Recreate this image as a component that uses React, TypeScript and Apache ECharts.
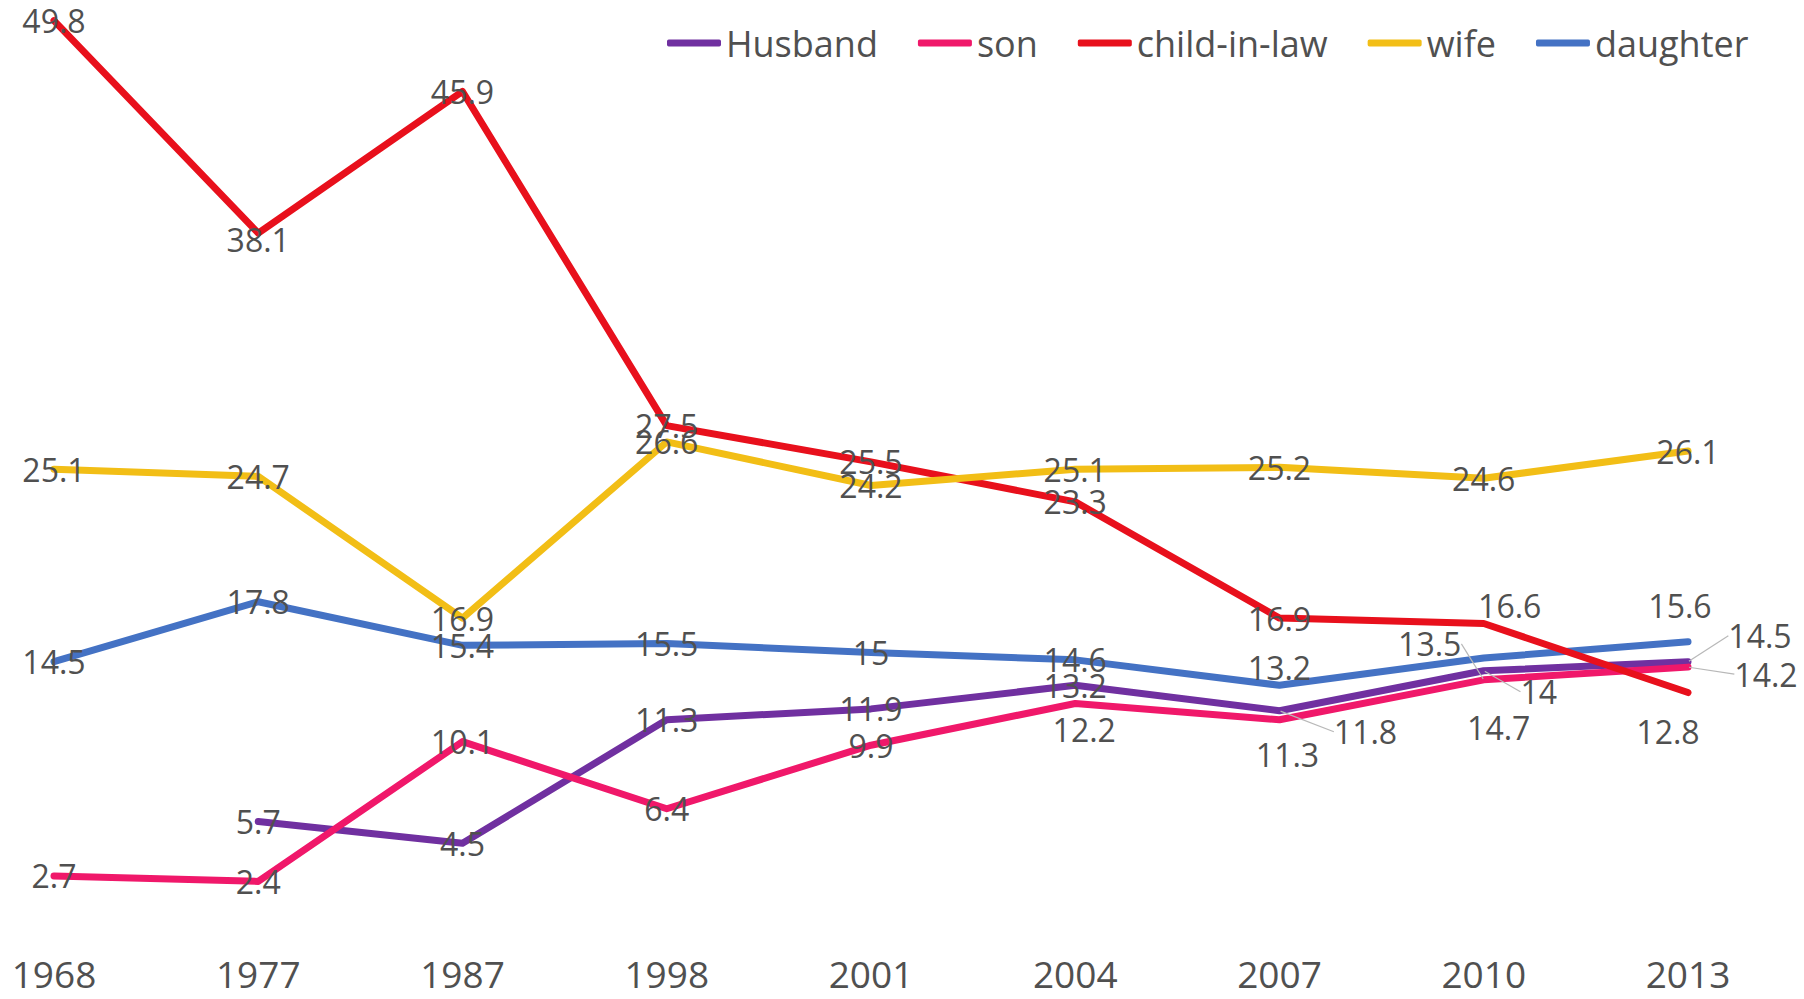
import React, { useEffect, useRef } from 'react';
import * as echarts from 'echarts';

const years = ['1968', '1977', '1987', '1998', '2001', '2004', '2007', '2010', '2013'];
const husband = [null, 5.7, 4.5, 11.3, 11.9, 13.2, 11.8, 14, 14.5];
const son = [2.7, 2.4, 10.1, 6.4, 9.9, 12.2, 11.3, 13.5, 14.2];
const childInLaw = [49.8, 38.1, 45.9, 27.5, 25.5, 23.3, 16.9, 16.6, 12.8];
const wife = [25.1, 24.7, 16.9, 26.6, 24.2, 25.1, 25.2, 24.6, 26.1];
const daughter = [14.5, 17.8, 15.4, 15.5, 15, 14.6, 13.2, 14.7, 15.6];
const legendOrder = ['Husband', 'son', 'child-in-law', 'wife', 'daughter'];

const FONT = '"Open Sans", "Noto Sans", sans-serif';
const TEXT = '#505050';

// label displacement (px) per series / point, and which have leader lines
const labelShift: Record<string, ([number, number] | null)[]> = {
  Husband: [null, null, null, null, null, null, [86, 21], [55, 21], [72, -26]],
  son: [null, null, null, null, null, [9, 26], [8, 35], [-54, -36], [78, 7]],
  'child-in-law': [null, [0, 6], null, null, null, null, null, [26, -18], [-20, 39]],
  wife: [null, null, null, null, null, null, null, null, null],
  daughter: [null, null, null, null, null, null, [0, -18], [15, 69], [-8, -36]],
};
const leaders: Record<string, number[]> = {
  Husband: [6, 7, 8],
  son: [7, 8],
  'child-in-law': [],
  wife: [],
  daughter: [],
};

export default function App() {
  const ref = useRef<HTMLDivElement>(null);
  useEffect(() => {
    document.body.style.margin = '0';
    const chart = echarts.init(ref.current!, null, { renderer: 'svg' });
    const mk = (name: string, values: (number | null)[], color: string) => ({
      name,
      type: 'line',
      data: values.map((v, i) =>
        v == null
          ? '-'
          : leaders[name].includes(i)
          ? { value: v, labelLine: { show: true } }
          : v
      ),
      symbol: 'circle',
      symbolSize: 2,
      showSymbol: true,
      lineStyle: { width: 7, color, cap: 'round', join: 'round' },
      itemStyle: { color },
      label: {
        show: true,
        position: 'inside',
        fontSize: 32,
        fontFamily: FONT,
        color: TEXT,
      },
      labelLine: { show: false, lineStyle: { color: '#b8b8b8', width: 1.2 } },
      labelLayout: (p: any) => {
        const s = labelShift[name][p.dataIndex];
        return s ? { dx: s[0], dy: s[1] } : {};
      },
      emphasis: { disabled: true },
      z: 2,
    });
    chart.setOption({
      animation: false,
      backgroundColor: '#ffffff',
      grid: { left: 54, right: 116, top: 17, bottom: 74, containLabel: false, outerBoundsMode: 'none' },
      legend: {
        data: legendOrder,
        left: 662,
        top: 20,
        icon: 'roundRect',
        itemWidth: 54,
        itemHeight: 7,
        itemGap: 40,
        textStyle: { fontSize: 36, fontFamily: FONT, color: TEXT },
      },
      xAxis: {
        type: 'category',
        data: years,
        boundaryGap: false,
        axisLine: { show: false },
        axisTick: { show: false },
        axisLabel: { fontSize: 37, fontFamily: FONT, color: TEXT, margin: 30 },
      },
      yAxis: { type: 'value', min: 0, max: 50, show: false, splitLine: { show: false } },
      series: [
        mk('daughter', daughter, '#4472C4'),
        mk('Husband', husband, '#7030A0'),
        mk('son', son, '#F0186A'),
        mk('child-in-law', childInLaw, '#E8101C'),
        mk('wife', wife, '#F2BE16'),
      ],
    });
    return () => chart.dispose();
  }, []);
  return <div ref={ref} style={{ width: 1804, height: 999 }} />;
}
